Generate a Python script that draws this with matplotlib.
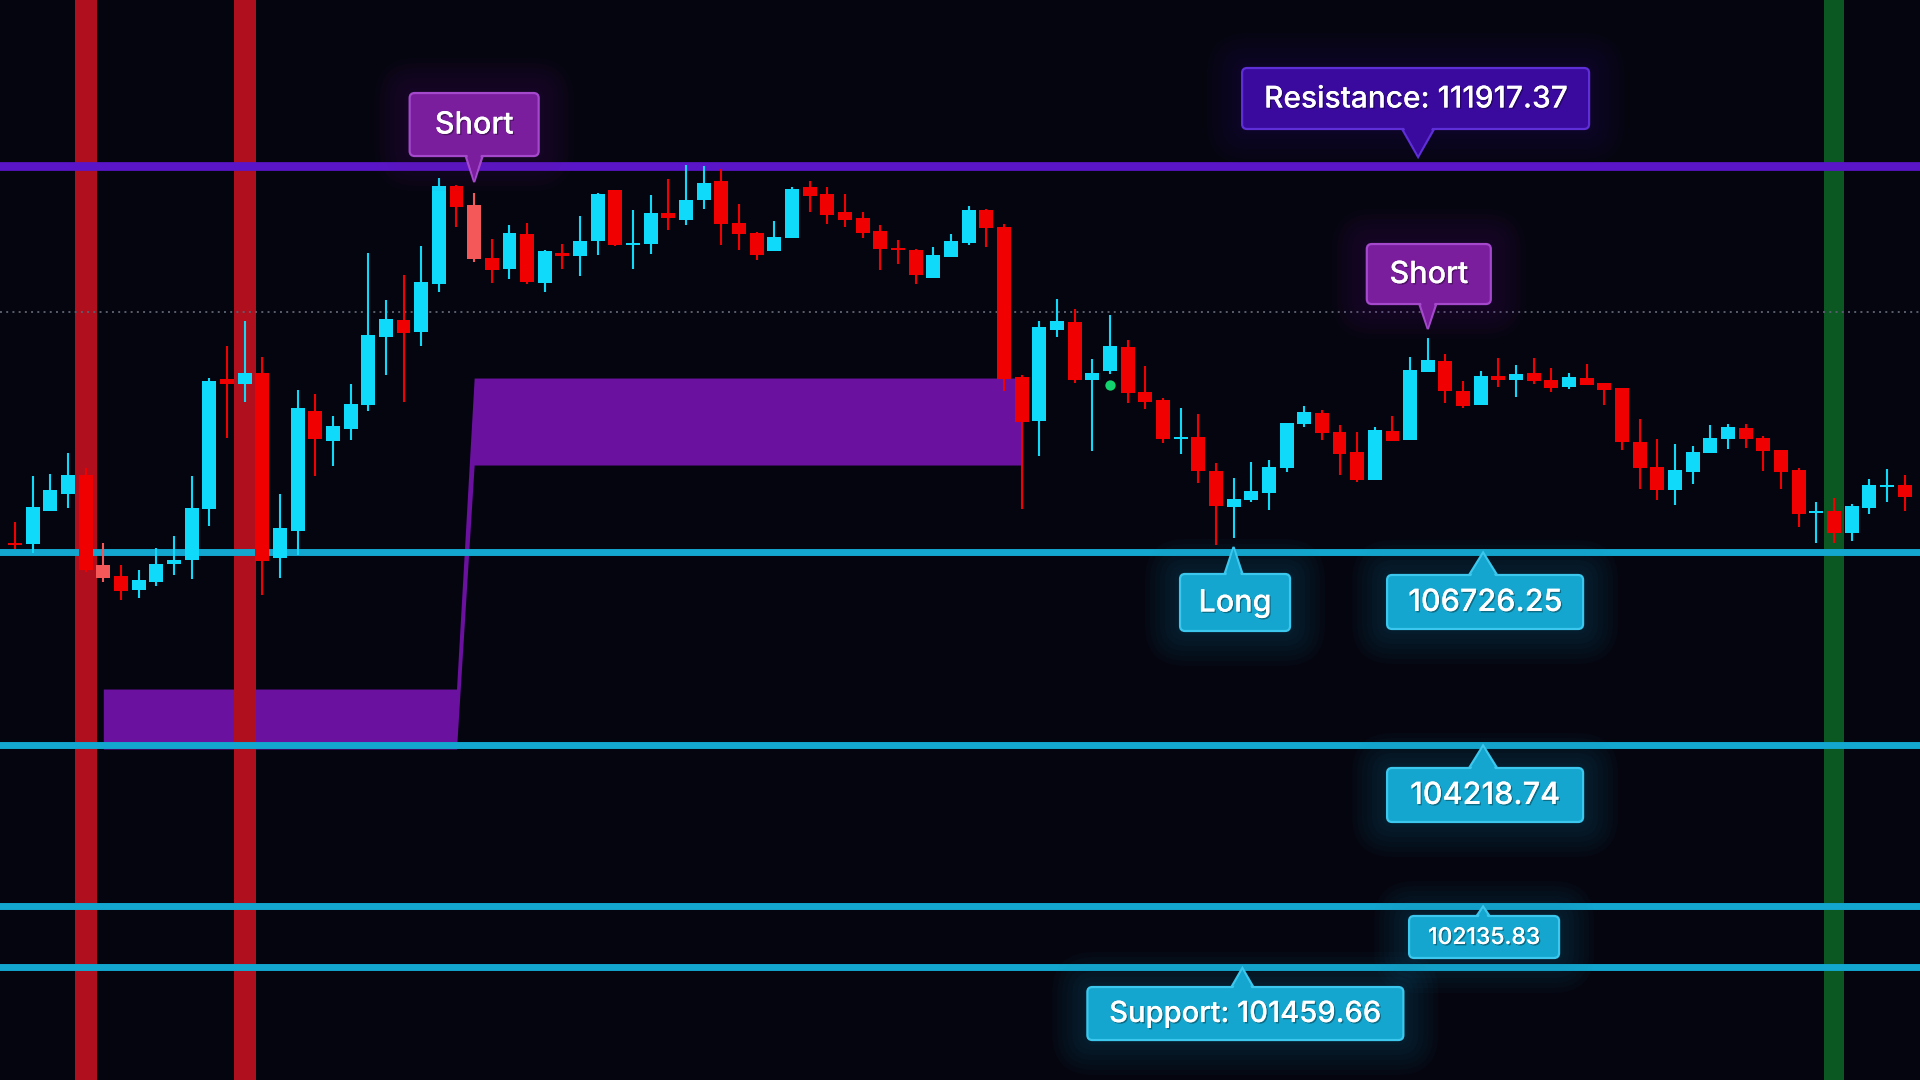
import numpy as np
import matplotlib
matplotlib.use("Agg")
import matplotlib.pyplot as plt
from matplotlib.patches import FancyBboxPatch, Polygon
from matplotlib.transforms import IdentityTransform
import matplotlib.patheffects as pe

# ---------------- data ----------------
opens = [107016, 107007, 107436, 107657, 107900, 106730, 106587, 106409, 106513, 106747,
         106799, 107462, 109148, 109087, 109226, 106825, 107176, 108732, 108346, 108502,
         108814, 109698, 109915, 109763, 110387, 111657, 111410, 110721, 110582, 111033,
         110400, 110786, 110751, 110946, 111605, 110894, 110907, 111306, 111219, 111479,
         111722, 111176, 111046, 110816, 110985, 111644, 111553, 111319, 111241, 111072,
         110851, 110825, 110465, 110738, 110920, 111345, 111124, 109174, 108606, 109789,
         109889, 109139, 109256, 109564, 108979, 108875, 108364, 108394, 107952, 107488,
         107579, 107670, 107995, 108567, 108706, 108459, 108199, 107839, 108472, 108359,
         109243, 109382, 108992, 108814, 109187, 109139, 109226, 109135, 109048, 109161,
         109096, 109031, 108329, 108004, 107709, 107943, 108190, 108372, 108511, 108381,
         108225, 107965, 107410, 107432, 107150, 107475, 107748, 107770]
highs = [107289, 107887, 107913, 108186, 107987, 107016, 106730, 106665, 106951, 107107,
         107887, 109161, 109577, 109902, 109434, 107653, 109005, 108953, 108667, 109083,
         110786, 110175, 110500, 110877, 111761, 111670, 111566, 110968, 111150, 111176,
         110820, 110903, 111267, 111560, 111610, 111345, 111540, 111748, 111930, 111917,
         111878, 111423, 111059, 111202, 111644, 111722, 111644, 111553, 111319, 111150,
         110955, 110838, 110864, 111033, 111397, 111358, 111163, 109200, 109902, 110188,
         110058, 109408, 109980, 109655, 109317, 108901, 108775, 108693, 108056, 107861,
         108069, 108095, 108580, 108797, 108745, 108550, 108459, 108524, 108667, 109434,
         109681, 109473, 109122, 109252, 109421, 109330, 109421, 109291, 109226, 109343,
         109100, 109035, 108628, 108368, 108303, 108277, 108550, 108563, 108563, 108407,
         108230, 107991, 107549, 107601, 107523, 107848, 107978, 107900]
lows = [106934, 106890, 107430, 107475, 106643, 106513, 106279, 106305, 106461, 106604,
        106552, 107241, 108385, 108853, 106344, 106565, 106864, 107891, 108021, 108359,
        108736, 109204, 108853, 109581, 110283, 111128, 110673, 110400, 110452, 110387,
        110283, 110582, 110491, 110764, 110881, 110582, 110777, 111089, 111154, 111362,
        110894, 110829, 110699, 110810, 110980, 111323, 111167, 111124, 110985, 110569,
        110647, 110387, 110460, 110735, 110894, 110868, 108996, 107462, 108151, 109698,
        109100, 108216, 109217, 108840, 108762, 108320, 108177, 107800, 106994, 107085,
        107553, 107449, 107943, 108528, 108359, 107904, 107813, 107835, 108340, 108355,
        109240, 108840, 108775, 108810, 109048, 108918, 109087, 108983, 109022, 109070,
        108814, 108229, 107722, 107579, 107514, 107787, 108186, 108242, 108255, 107956,
        107722, 107228, 107016, 107016, 107046, 107397, 107553, 107436]
closes = [106994, 107484, 107705, 107900, 106669, 106565, 106396, 106535, 106743, 106795,
          107471, 109122, 109087, 109226, 106786, 107211, 108771, 108372, 108537, 108823,
          109720, 109928, 109750, 110409, 111657, 111388, 110712, 110569, 111046, 110413,
          110812, 110751, 110942, 111553, 110890, 110916, 111306, 111245, 111475, 111696,
          111167, 111037, 110764, 110994, 111618, 111531, 111284, 111219, 111050, 110842,
          110829, 110504, 110760, 110942, 111345, 111115, 109148, 108593, 109824, 109902,
          109139, 109226, 109577, 108970, 108853, 108372, 108398, 107956, 107501, 107588,
          107692, 108004, 108576, 108719, 108450, 108177, 107839, 108485, 108346, 109265,
          109395, 108996, 108801, 109187, 109139, 109213, 109126, 109035, 109174, 109074,
          109009, 108333, 107995, 107709, 107965, 108199, 108381, 108524, 108372, 108216,
          107943, 107397, 107436, 107150, 107497, 107770, 107770, 107618]
highlight_idx = [5, 26]            # lighter red candles

line_levels = [111917.37, 106893, 104384, 102291, 101504]   # as drawn in chart
line_texts = ["Resistance: 111917.37", "106726.25", "104218.74", "102135.83",
              "Support: 101459.66"]
mid_level = 110019                                          # dotted line

zone_x = [5, 25, 26, 57]
zone_low = [104338, 104338, 108030, 108030]
zone_high = [105118, 105118, 109161, 109161]

red_bands = [4, 13]
green_bands = [103]
short_idx = [26, 80]
long_idx = 69
dot_idx = 62
dot_price = 109070

# ---------------- style ----------------
BG = "#05050F"
CYAN = "#10DAFA"
RED = "#F00000"
LRED = "#F45858"
LINE_CYAN = "#13A6CE"
RES_PURPLE = "#5A15C9"
ZONE = "#6A119F"
FONT = ["Inter", "DejaVu Sans"]

fig = plt.figure(figsize=(19.2, 10.8), dpi=100)
fig.patch.set_facecolor(BG)
ax = fig.add_axes([0, 0, 1, 1])
ax.set_facecolor(BG)
ax.set_xlim(-0.849, 107.87)
ax.set_ylim(100035.37, 114075.37)
ax.axis("off")

n = len(opens)
x = np.arange(n)
o = np.array(opens, float); c = np.array(closes, float)
h = np.array(highs, float); l = np.array(lows, float)
cols = [CYAN if c[i] >= o[i] else RED for i in range(n)]
for i in highlight_idx:
    cols[i] = LRED

# zone
ax.fill_between(zone_x, zone_low, zone_high, color=ZONE, lw=0, zorder=1)

# bands
for b in red_bands:
    ax.axvspan(b - 0.62, b + 0.62, color="#B0101E", lw=0, zorder=2)
for b in green_bands:
    ax.axvspan(b - 0.58, b + 0.58, color="#0B5822", lw=0, zorder=2)

# dotted mid line
ax.axhline(mid_level, color="#5A5F6E", lw=1.4, ls=(0, (1, 2.2)),
           dash_capstyle="butt", zorder=2.5)

# level lines
ax.axhline(line_levels[0], color=RES_PURPLE, lw=6.3, zorder=3)
for lv in line_levels[1:]:
    ax.axhline(lv, color=LINE_CYAN, lw=5.0, zorder=3)

# candles
ax.vlines(x, l, h, colors=cols, lw=1.5, zorder=4)
bottom = np.minimum(o, c)
height = np.maximum(np.abs(c - o), 28)
ax.bar(x, height, bottom=bottom, width=0.79, color=cols, lw=0, zorder=4.1)

ax.scatter([dot_idx], [dot_price], s=55, color="#12D36E", lw=0, zorder=4.5)

fig.canvas.draw()
ID = IdentityTransform()


def callout(xd, yd, text, fc, ec, glow, fs, w, hgt, tip_dy, edge_dy, base_w, dx=0):
    X, Y = ax.transData.transform((xd, yd))
    tipY = Y - tip_dy
    edgeY = Y - edge_dy
    if edge_dy < 0:
        y0 = edgeY
        inner = edgeY + 2
    else:
        y0 = edgeY - hgt
        inner = edgeY - 2
    cx = X + dx
    cy = y0 + hgt / 2
    for k in range(7, 0, -1):
        pad = k * 5
        ax.add_patch(FancyBboxPatch((cx - w / 2 - pad, y0 - pad), w + 2 * pad, hgt + 2 * pad,
                                    boxstyle=f"round,pad=0,rounding_size={6 + pad}",
                                    transform=ID, fc=glow, ec="none", alpha=0.03,
                                    zorder=5, clip_on=False))
    tri = Polygon([(X - base_w / 2, edgeY), (X + base_w / 2, edgeY), (X, tipY)],
                  closed=True, transform=ID, fc=fc, ec=ec, lw=1.6, zorder=5.5,
                  clip_on=False, joinstyle="miter")
    ax.add_patch(tri)
    ax.add_patch(FancyBboxPatch((cx - w / 2, y0), w, hgt,
                                boxstyle="round,pad=0,rounding_size=5", transform=ID,
                                fc=fc, ec=ec, lw=1.6, zorder=5.6, clip_on=False))
    ax.add_patch(Polygon([(X - base_w / 2 + 1.5, inner), (X + base_w / 2 - 1.5, inner),
                          (X, tipY + (2 if edge_dy < 0 else -2))],
                         closed=True, transform=ID, fc=fc, ec="none", zorder=5.7,
                         clip_on=False))
    ax.text(cx, cy - 1, text, transform=ID, ha="center", va="center", fontsize=fs,
            color="white", family=FONT, fontweight="medium", zorder=6,
            path_effects=[pe.withSimplePatchShadow(offset=(1, -1), shadow_rgbFace="black",
                                                   alpha=0.35), pe.Normal()])


PUR_FC, PUR_EC, PUR_GLOW = "#7A1E9E", "#A448CC", "#6A1A90"
RES_FC, RES_EC, RES_GLOW = "#3A0A9E", "#5E2FD6", "#3A1090"
CY_FC, CY_EC, CY_GLOW = "#14A6CE", "#3CC8EE", "#1A8AB8"

callout(79.45, line_levels[0], line_texts[0], RES_FC, RES_EC, RES_GLOW, 21.5,
        347, 61, -9, -37, 32, dx=-2.5)
callout(short_idx[0], highs[short_idx[0]], "Short", PUR_FC, PUR_EC, PUR_GLOW, 22,
        129, 63, -11, -37, 17)
callout(short_idx[1], highs[short_idx[1]], "Short", PUR_FC, PUR_EC, PUR_GLOW, 22,
        124, 60, -9, -34, 17, dx=1)
callout(long_idx, line_levels[1], "Long", CY_FC, CY_EC, CY_GLOW, 22,
        110, 57, -5.5, 21.5, 18, dx=1.5)
callout(83.13, line_levels[1], line_texts[1], CY_FC, CY_EC, CY_GLOW, 22,
        196, 54, 0, 22.5, 28, dx=2)
callout(83.13, line_levels[2], line_texts[2], CY_FC, CY_EC, CY_GLOW, 22,
        196, 54, 0, 22.5, 28, dx=2)
callout(83.13, line_levels[3], line_texts[3], CY_FC, CY_EC, CY_GLOW, 16.5,
        150, 42, 0, 9.5, 13, dx=1)
callout(69.5, line_levels[4], line_texts[4], CY_FC, CY_EC, CY_GLOW, 21,
        316, 53, 1, 20, 22, dx=3)

fig.savefig("out.png", dpi=100, facecolor=BG)
